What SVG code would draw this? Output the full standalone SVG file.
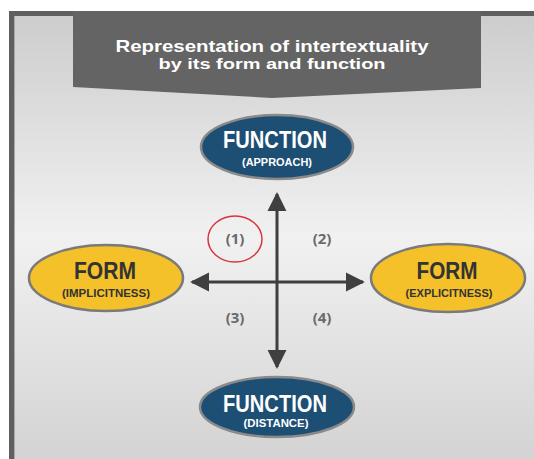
<svg xmlns="http://www.w3.org/2000/svg" width="534" height="459" viewBox="0 0 534 459">
<defs>
<linearGradient id="bg" x1="0" y1="0" x2="0" y2="1">
<stop offset="0" stop-color="#cdcdcd"/>
<stop offset="0.5" stop-color="#f1f1f1"/>
<stop offset="1" stop-color="#d3d3d3"/>
</linearGradient>
<marker id="ah" viewBox="0 0 10 10" refX="9" refY="5" markerWidth="6.4" markerHeight="6.4" orient="auto" markerUnits="strokeWidth">
<path d="M0,0 L10,5 L0,10 Z" fill="#3f3f3f"/>
</marker>
<style>
.blue{fill:#1d4e74;stroke:#8a8a8a;stroke-width:2.5}
.yellow{fill:#f4c12a;stroke:#7a7a7a;stroke-width:2.5}
.big{font-family:"Liberation Sans",Arial,sans-serif;font-weight:bold;font-size:23px;text-anchor:middle}
.small{font-family:"Liberation Sans",Arial,sans-serif;font-weight:bold;font-size:11px;text-anchor:middle}
.w{fill:#ffffff}
.d{fill:#333333}
.num{font-family:"Open Sans","Liberation Sans",sans-serif;font-weight:bold;font-size:15px;fill:#6a6a6a;text-anchor:middle}
.axis{stroke:#3f3f3f;stroke-width:3;fill:none;marker-end:url(#ah)}
.title{font-family:"Liberation Sans",Arial,sans-serif;font-weight:bold;fill:#ffffff;text-anchor:middle}
</style>
</defs>
<rect x="0" y="0" width="534" height="459" fill="#ffffff"/>
<rect x="9" y="11" width="525" height="448" fill="#5f5f5f"/>
<rect x="14" y="16" width="520" height="443" fill="url(#bg)"/>
<rect x="14" y="16" width="1" height="443" fill="#a8a8a8"/>
<g id="banner">
<polygon points="73,11 481,11 481,88 272,98 73,87" fill="#646464"/>
<text class="title" x="272" y="52" font-size="16.5" textLength="313" lengthAdjust="spacingAndGlyphs">Representation of intertextuality</text>
<text class="title" x="272" y="69" font-size="14" textLength="227" lengthAdjust="spacingAndGlyphs">by its form and function</text>
</g>
<g id="connectors">
<line class="axis" x1="277" y1="282" x2="277" y2="194"/>
<line class="axis" x1="277" y1="282" x2="277" y2="367"/>
<line class="axis" x1="277" y1="282" x2="192" y2="282"/>
<line class="axis" x1="277" y1="282" x2="363" y2="282"/>
</g>
<g id="function-approach">
<ellipse class="blue" cx="277" cy="147" rx="76" ry="32"/>
<text class="big w" x="275" y="148" textLength="104" lengthAdjust="spacingAndGlyphs">FUNCTION</text>
<text class="small w" x="277" y="166" textLength="70" lengthAdjust="spacingAndGlyphs">(APPROACH)</text>
</g>
<g id="form-implicitness">
<ellipse class="yellow" cx="106" cy="278" rx="77" ry="33"/>
<text class="big d" x="105" y="279" textLength="62" lengthAdjust="spacingAndGlyphs">FORM</text>
<text class="small d" x="106" y="297" textLength="88" lengthAdjust="spacingAndGlyphs">(IMPLICITNESS)</text>
</g>
<g id="form-explicitness">
<ellipse class="yellow" cx="448" cy="278" rx="77" ry="34"/>
<text class="big d" x="447" y="279" textLength="61" lengthAdjust="spacingAndGlyphs">FORM</text>
<text class="small d" x="449" y="297" textLength="87" lengthAdjust="spacingAndGlyphs">(EXPLICITNESS)</text>
</g>
<g id="function-distance">
<ellipse class="blue" cx="277" cy="407" rx="77" ry="30"/>
<text class="big w" x="275" y="412" textLength="104" lengthAdjust="spacingAndGlyphs">FUNCTION</text>
<text class="small w" x="276" y="427" textLength="65" lengthAdjust="spacingAndGlyphs">(DISTANCE)</text>
</g>
<g id="quadrants">
<ellipse cx="235" cy="239" rx="27" ry="23" fill="none" stroke="#d9343c" stroke-width="1.5"/>
<text class="num" x="235" y="244">(1)</text>
<text class="num" x="322" y="244">(2)</text>
<text class="num" x="235" y="323">(3)</text>
<text class="num" x="322" y="323">(4)</text>
</g>
</svg>
